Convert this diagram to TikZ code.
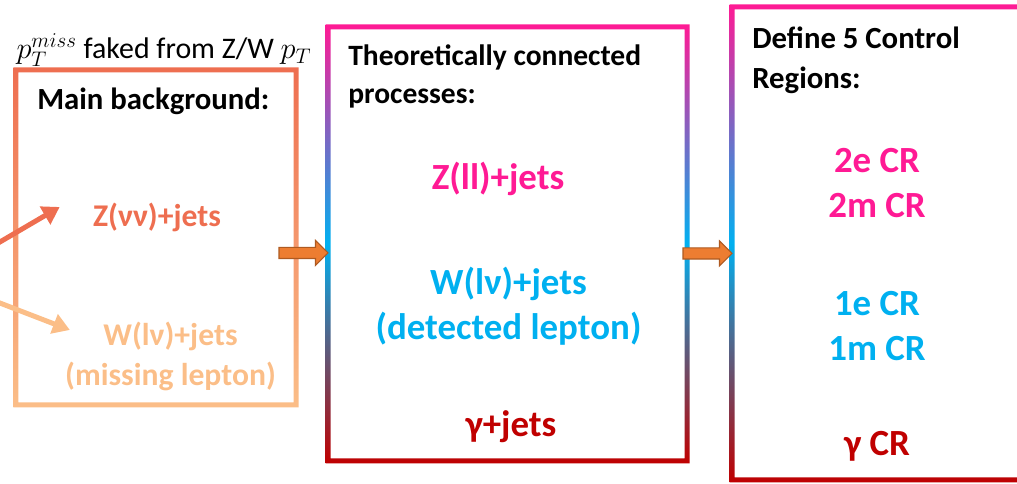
\documentclass[tikz,border=0pt]{standalone}
\usepackage{fontspec}
\setmainfont{Carlito}
\usetikzlibrary{positioning,arrows.meta,shapes.arrows}

\definecolor{bkgtop}{HTML}{EE6E50}
\definecolor{bkgbottom}{HTML}{FBBE88}
\definecolor{crpink}{HTML}{FF1A94}
\definecolor{crcyan}{HTML}{00B0F0}
\definecolor{crred}{HTML}{C00000}
\definecolor{arroworange}{HTML}{ED7D31}
\definecolor{arrowedge}{HTML}{AE5A21}

% frame with a vertical colour gradient, drawn round a named box
\newcommand{\gradframe}[2]{%
    \shade[#2, even odd rule]
        ([shift={(-0.05,-0.05)}]#1.south west) rectangle ([shift={(0.05,0.05)}]#1.north east)
        ([shift={(0.05,0.05)}]#1.south west) rectangle ([shift={(-0.05,-0.05)}]#1.north east);
}

\tikzset{
    box/.style = {
        shape=rectangle,
        inner sep=0pt,
        outer sep=0pt
    },
    heading/.style = {
        font=\fontsize{17.5}{22.5}\selectfont\bfseries,
        align=left,
        inner sep=0pt
    },
    bkgtext/.style = {
        font=\fontsize{18}{22.8}\selectfont\bfseries,
        align=center,
        inner sep=0pt
    },
    crtext/.style = {
        font=\fontsize{21}{25.5}\selectfont\bfseries,
        align=center,
        inner sep=0pt
    },
    flow/.style = {
        draw=arrowedge,
        fill=arroworange,
        shape=single arrow,
        minimum height=0.98cm,
        single arrow head extend=0.14cm,
        inner xsep=0pt,
        inner ysep=0.1cm,
        outer sep=0pt,
        line width=0.6pt
    },
    feed/.style = {
        line width=0.1cm,
        -{Triangle[length=0.34cm,width=0.4cm]}
    },
}

\begin{document}
\begin{tikzpicture}
            \useasboundingbox (0,0) rectangle (20.34,9.68);
            \clip (0,0) rectangle (20.34,9.68);

            \node[box, minimum width=5.6cm, minimum height=6.7cm] (bkgbox) at (3.12,4.93) {};
            \node[box, minimum width=7.18cm, minimum height=8.68cm] (procbox) at (10.15,4.8) {};
            \node[box, minimum width=6.16cm, minimum height=9.46cm] (crbox) at (17.72,4.81) {};

            \gradframe{bkgbox}{top color=bkgtop, bottom color=bkgbottom}
            \gradframe{procbox}{top color=crpink, bottom color=crred, middle color=crcyan}
            \gradframe{crbox}{top color=crpink, bottom color=crred, middle color=crcyan}

            % main background
            \node[anchor=base, inner sep=0pt, font=\fontsize{17}{20}\selectfont] (fakenote) at (3.28,8.5) {$p_T^{miss}$ faked from Z/W $p_T$};
            \node[heading, anchor=base west] (bkghead) at (0.74,7.48) {Main background:};
            \node[bkgtext, text=bkgtop, anchor=base] (znunu) at (3.14,5.14) {Z(νν)+jets};
            \node[bkgtext, text=bkgbottom] (wmiss) at (3.41,2.56) {W(lν)+jets\\(missing lepton)};

            % connected processes
            \node[heading, font=\fontsize{16.8}{21.6}\selectfont\bfseries, anchor=north west] (prochead) at (6.96,8.8) {Theoretically connected\\processes:};
            \node[crtext, text=crpink, anchor=base] (zll) at (9.96,5.88) {Z(ll)+jets};
            \node[crtext, text=crcyan] (wdet) at (10.17,3.56) {W(lν)+jets\\(detected lepton)};
            \node[crtext, text=crred, anchor=base] (gjets) at (10.22,0.94) {γ+jets};

            % control regions
            \node[heading, anchor=north west] (crhead) at (15.04,9.14) {Define 5 Control\\Regions:};
            \node[crtext, text=crpink] (twolep) at (17.54,6.02) {2e CR\\2m CR};
            \node[crtext, text=crcyan] (onelep) at (17.54,3.16) {1e CR\\1m CR};
            \node[crtext, text=crred, anchor=base] (gcr) at (17.54,0.56) {γ CR};

            \node[flow, anchor=tip] (toproc) at ([yshift=-0.18cm]procbox.west) {};
            \node[flow, anchor=tip] (tocr) at ([yshift=-0.2cm]crbox.west) {};

            \coordinate (zsrc) at (-0.6,4.49);
            \coordinate (wsrc) at (-0.6,3.85);
            \draw[feed, draw=bkgtop, fill=bkgtop] (zsrc) -- ([shift={(-0.66,0.4)}]znunu.base west);
            \draw[feed, draw=bkgbottom, fill=bkgbottom] (wsrc) -- ([shift={(0.1,0.52)}]wmiss.west);

        \end{tikzpicture}
\end{document}
